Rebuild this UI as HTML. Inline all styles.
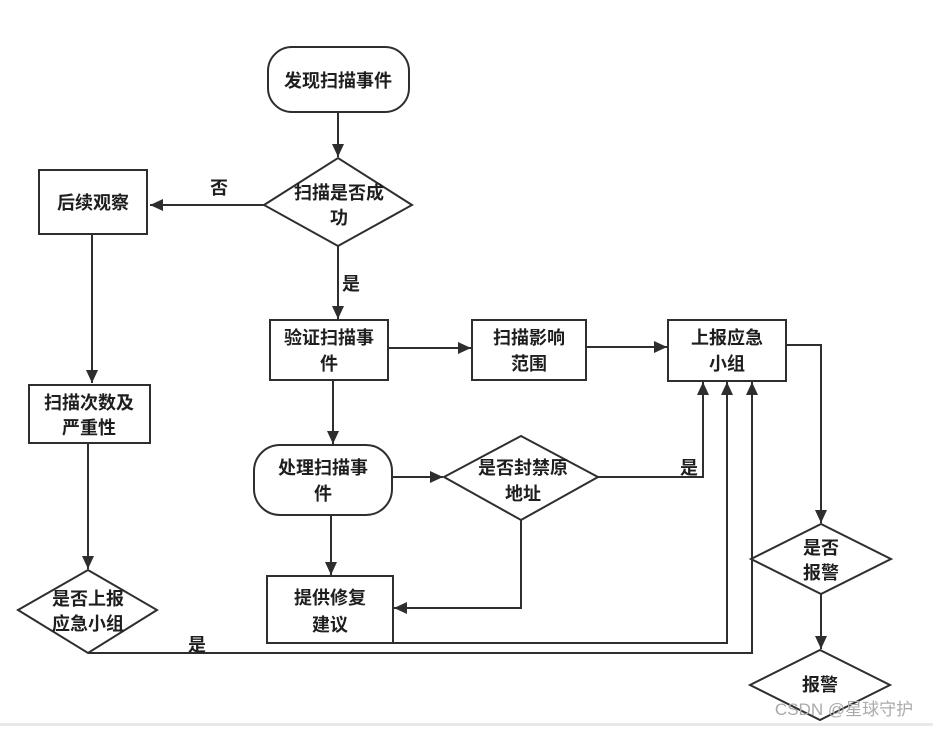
<!DOCTYPE html>
<html><head><meta charset="utf-8"><style>
html,body{margin:0;padding:0;background:#fff;}
svg text{font-family:"Liberation Sans","Noto Sans CJK SC",sans-serif;font-weight:bold;font-size:18px;fill:#1e1e1e;text-anchor:middle;}
</style></head><body>
<svg width="933" height="726" viewBox="0 0 933 726" xmlns="http://www.w3.org/2000/svg">
<defs>
<marker id="b" markerWidth="14" markerHeight="14" refX="13" refY="6" orient="auto" markerUnits="userSpaceOnUse"><path d="M0,0 L13,6 L0,12 z" fill="#2e2e2e"/></marker></defs>
<rect x="0" y="723" width="933" height="3" fill="#e8e8e8"/>
<g fill="#fff" stroke="#2e2e2e" stroke-width="2">
<rect x="268" y="47" width="141" height="65" rx="24"/>
<polygon points="264,205 338,158 412,205 338,246"/>
<rect x="39" y="170" width="108" height="64"/>
<rect x="29" y="385" width="121" height="58"/>
<polygon points="18,610 88,570 157,610 88,653"/>
<rect x="270" y="320" width="118" height="60"/>
<rect x="472" y="320" width="114" height="60"/>
<rect x="668" y="320" width="118" height="61"/>
<rect x="254" y="445" width="138" height="70" rx="26"/>
<polygon points="444,477 521,436 598,477 521,520"/>
<rect x="267" y="576" width="126" height="67"/>
<polygon points="751,559 821,524 891,559 821,594"/>
<polygon points="750,685 820,650 890,685 820,720"/>
</g>
<g fill="none" stroke="#2e2e2e" stroke-width="2">
<path d="M338,112 V157" marker-end="url(#b)"/>
<path d="M264,205 H150" marker-end="url(#b)"/>
<path d="M92,234 V383" marker-end="url(#b)"/>
<path d="M88,443 V569" marker-end="url(#b)"/>
<path d="M338,246 V319" marker-end="url(#b)"/>
<path d="M388,348 H471" marker-end="url(#b)"/>
<path d="M586,347 H667" marker-end="url(#b)"/>
<path d="M333,380 V444" marker-end="url(#b)"/>
<path d="M392,477 H443" marker-end="url(#b)"/>
<path d="M598,477 H703 V382" marker-end="url(#b)"/>
<path d="M521,520 V608 H394" marker-end="url(#b)"/>
<path d="M331,515 V575" marker-end="url(#b)"/>
<path d="M393,643 H727 V382" marker-end="url(#b)"/>
<path d="M88,653 H752 V382" marker-end="url(#b)"/>
<path d="M786,345 H821 V523" marker-end="url(#b)"/>
<path d="M821,594 V649" marker-end="url(#b)"/>
</g>
<text x="338" y="87">发现扫描事件</text>
<text x="339" y="199">扫描是否成</text><text x="339" y="224">功</text>
<text x="93" y="209">后续观察</text>
<text x="219" y="194">否</text>
<text x="351" y="290">是</text>
<text x="89" y="409">扫描次数及</text><text x="89" y="434">严重性</text>
<text x="88" y="605">是否上报</text><text x="88" y="630">应急小组</text>
<text x="197" y="651">是</text>
<text x="329" y="344">验证扫描事</text><text x="329" y="370">件</text>
<text x="529" y="344">扫描影响</text><text x="529" y="370">范围</text>
<text x="727" y="344">上报应急</text><text x="727" y="370">小组</text>
<text x="323" y="474">处理扫描事</text><text x="323" y="500">件</text>
<text x="523" y="474">是否封禁原</text><text x="523" y="500">地址</text>
<text x="689" y="474">是</text>
<text x="330" y="604">提供修复</text><text x="330" y="631">建议</text>
<text x="821" y="554">是否</text><text x="821" y="579">报警</text>
<text x="820" y="691">报警</text>
<text x="844" y="715" style="font-weight:normal;font-size:17px;fill:#aaa">CSDN @星球守护</text>
</svg>
</body></html>
